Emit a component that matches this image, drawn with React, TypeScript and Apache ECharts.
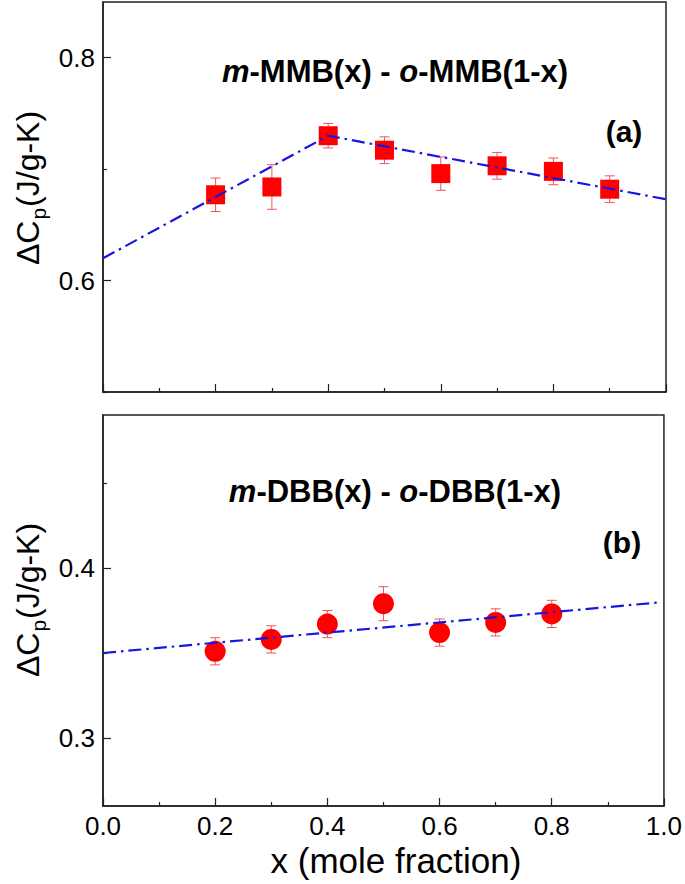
import React, { useEffect, useRef } from "react";
import * as echarts from "echarts";

// ---- data ----
const xTop = [0.2, 0.3, 0.4, 0.5, 0.6, 0.7, 0.8, 0.9];
const yTop = [0.677, 0.684, 0.730, 0.717, 0.696, 0.703, 0.698, 0.682];
const errTop = [0.015, 0.020, 0.011, 0.012, 0.015, 0.012, 0.012, 0.012];
const fitTopX = [0.0, 0.4, 1.0];
const fitTopY = [0.620, 0.730, 0.673];

const xBot = [0.2, 0.3, 0.4, 0.5, 0.6, 0.7, 0.8];
const yBot = [0.351, 0.358, 0.367, 0.379, 0.362, 0.368, 0.373];
const errBot = [0.008, 0.008, 0.008, 0.010, 0.008, 0.008, 0.008];
const fitBotX = [0.0, 0.99];
const fitBotY = [0.350, 0.3797];

const topMajorTicks = [0.6, 0.8];
const topMinorTicks = [0.5, 0.7];
const botMajorTicks = [0.3, 0.4];
const botMinorTicks = [0.35, 0.45];

const FONT = "'Liberation Sans', Arial, sans-serif";
const AXIS = "#222";
const RED = "#ff0000";
const ERR = "#f05555";
const BLUE = "#1616e0";

function errorBar(params: any, api: any) {
  const x = api.value(0);
  const y = api.value(1);
  const e = api.value(2);
  const t = api.coord([x, y + e]);
  const b = api.coord([x, y - e]);
  const w = 5;
  const st = { stroke: ERR, lineWidth: 1 };
  return {
    type: "group",
    children: [
      { type: "line", shape: { x1: t[0], y1: t[1], x2: b[0], y2: b[1] }, style: st },
      { type: "line", shape: { x1: t[0] - w, y1: t[1], x2: t[0] + w, y2: t[1] }, style: st },
      { type: "line", shape: { x1: b[0] - w, y1: b[1], x2: b[0] + w, y2: b[1] }, style: st },
    ],
  };
}

function xAxisCfg(gridIndex: number, showLabels: boolean) {
  return {
    type: "value",
    gridIndex,
    min: 0,
    max: 1,
    interval: 0.2,
    axisLine: { show: true, lineStyle: { color: AXIS, width: 1.5 } },
    axisTick: { show: true, inside: true, length: 8, lineStyle: { color: AXIS, width: 1.2 } },
    minorTick: { show: true, splitNumber: 2, length: 4, lineStyle: { color: AXIS, width: 1.2 } },
    splitLine: { show: false },
    axisLabel: {
      show: showLabels,
      fontFamily: FONT,
      fontSize: 26,
      color: "#000",
      margin: 7,
      formatter: (v: number) => v.toFixed(1),
    },
  };
}

function yAxisMajor(gridIndex: number, min: number, max: number, ticks: number[]) {
  return {
    type: "value",
    gridIndex,
    min,
    max,
    axisLine: { show: true, lineStyle: { color: AXIS, width: 1.5 } },
    axisTick: { show: true, inside: true, length: 8, customValues: ticks, lineStyle: { color: AXIS, width: 1.2 } },
    splitLine: { show: false },
    axisLabel: {
      show: true,
      customValues: ticks,
      fontFamily: FONT,
      fontSize: 26,
      color: "#000",
      margin: 8,
      formatter: (v: number) => v.toFixed(1),
    },
  };
}

function yAxisMinor(gridIndex: number, min: number, max: number, ticks: number[]) {
  return {
    type: "value",
    gridIndex,
    min,
    max,
    position: "left",
    axisLine: { show: false },
    axisTick: { show: true, inside: true, length: 4, customValues: ticks, lineStyle: { color: AXIS, width: 1.2 } },
    splitLine: { show: false },
    axisLabel: { show: false },
  };
}

const yTitle = (y: number) => ({
  type: "text",
  x: 28,
  y,
  rotation: Math.PI / 2,
  style: {
    text: "{a|ΔC}{s|p}{a|(J/g-K)}",
    align: "center",
    verticalAlign: "middle",
    fill: "#000",
    rich: {
      a: { fontFamily: FONT, fontSize: 32, lineHeight: 32, fill: "#000" },
      s: { fontFamily: FONT, fontSize: 21, lineHeight: 21, padding: [20, 1, 0, 1], fill: "#000" },
    },
  },
});

const title = (x: number, y: number, text: string) => ({
  type: "text",
  x,
  y,
  style: {
    text,
    align: "center",
    verticalAlign: "middle",
    fill: "#000",
    rich: {
      i: { fontFamily: FONT, fontSize: 31, fontWeight: "bold", fontStyle: "italic", fill: "#000" },
      b: { fontFamily: FONT, fontSize: 31, fontWeight: "bold", fill: "#000" },
    },
  },
});

const panelLabel = (x: number, y: number, text: string) => ({
  type: "text",
  x,
  y,
  style: {
    text,
    align: "center",
    verticalAlign: "middle",
    fill: "#000",
    fontFamily: FONT,
    fontSize: 30,
    fontWeight: "bold",
  },
});

export default function App() {
  const ref = useRef<HTMLDivElement>(null);
  useEffect(() => {
    if (!ref.current) return;
    const chart = echarts.init(ref.current, null, { renderer: "svg" });
    const option: any = {
      animation: false,
      backgroundColor: "#fff",
      grid: [
        { left: 103, right: 19, top: 2, height: 390, show: true, borderColor: AXIS, borderWidth: 1.5, backgroundColor: "transparent" },
        { left: 103, right: 19, top: 415, height: 391, show: true, borderColor: AXIS, borderWidth: 1.5, backgroundColor: "transparent" },
      ],
      xAxis: [xAxisCfg(0, false), xAxisCfg(1, true)],
      yAxis: [
        yAxisMajor(0, 0.5, 0.85, topMajorTicks),
        yAxisMinor(0, 0.5, 0.85, topMinorTicks),
        yAxisMajor(1, 0.26, 0.49, botMajorTicks),
        yAxisMinor(1, 0.26, 0.49, botMinorTicks),
      ],
      series: [
        {
          type: "custom",
          xAxisIndex: 0,
          yAxisIndex: 0,
          renderItem: errorBar,
          encode: { x: 0, y: 1 },
          data: xTop.map((x, i) => [x, yTop[i], errTop[i]]),
          z: 1,
        },
        {
          type: "scatter",
          xAxisIndex: 0,
          yAxisIndex: 0,
          symbol: "rect",
          symbolSize: 19,
          itemStyle: { color: RED, opacity: 1 },
          data: xTop.map((x, i) => [x, yTop[i]]),
          z: 2,
        },
        {
          type: "line",
          xAxisIndex: 0,
          yAxisIndex: 0,
          symbol: "none",
          lineStyle: { color: BLUE, width: 2.2, type: [13, 5, 2.5, 5] },
          data: fitTopX.map((x, i) => [x, fitTopY[i]]),
          z: 3,
        },
        {
          type: "custom",
          xAxisIndex: 1,
          yAxisIndex: 2,
          renderItem: errorBar,
          encode: { x: 0, y: 1 },
          data: xBot.map((x, i) => [x, yBot[i], errBot[i]]),
          z: 1,
        },
        {
          type: "scatter",
          xAxisIndex: 1,
          yAxisIndex: 2,
          symbol: "circle",
          symbolSize: 21,
          itemStyle: { color: RED, opacity: 1 },
          data: xBot.map((x, i) => [x, yBot[i]]),
          z: 2,
        },
        {
          type: "line",
          xAxisIndex: 1,
          yAxisIndex: 2,
          symbol: "none",
          lineStyle: { color: BLUE, width: 2.2, type: [13, 5, 2.5, 5] },
          data: fitBotX.map((x, i) => [x, fitBotY[i]]),
          z: 3,
        },
      ],
      graphic: [
        title(395, 71, "{i|m}{b|-MMB(x) - }{i|o}{b|-MMB(1-x)}"),
        title(395, 491, "{i|m}{b|-DBB(x) - }{i|o}{b|-DBB(1-x)}"),
        panelLabel(624, 131, "(a)"),
        panelLabel(622, 542, "(b)"),
        yTitle(188),
        yTitle(600),
        {
          type: "text",
          x: 396,
          y: 860,
          style: {
            text: "x (mole fraction)",
            align: "center",
            verticalAlign: "middle",
            fill: "#000",
            fontFamily: FONT,
            fontSize: 35,
          },
        },
      ],
    };
    chart.setOption(option);
    return () => chart.dispose();
  }, []);
  return (
    <div
      ref={ref}
      style={{ position: "absolute", left: 0, top: 0, width: 685, height: 884 }}
    />
  );
}
